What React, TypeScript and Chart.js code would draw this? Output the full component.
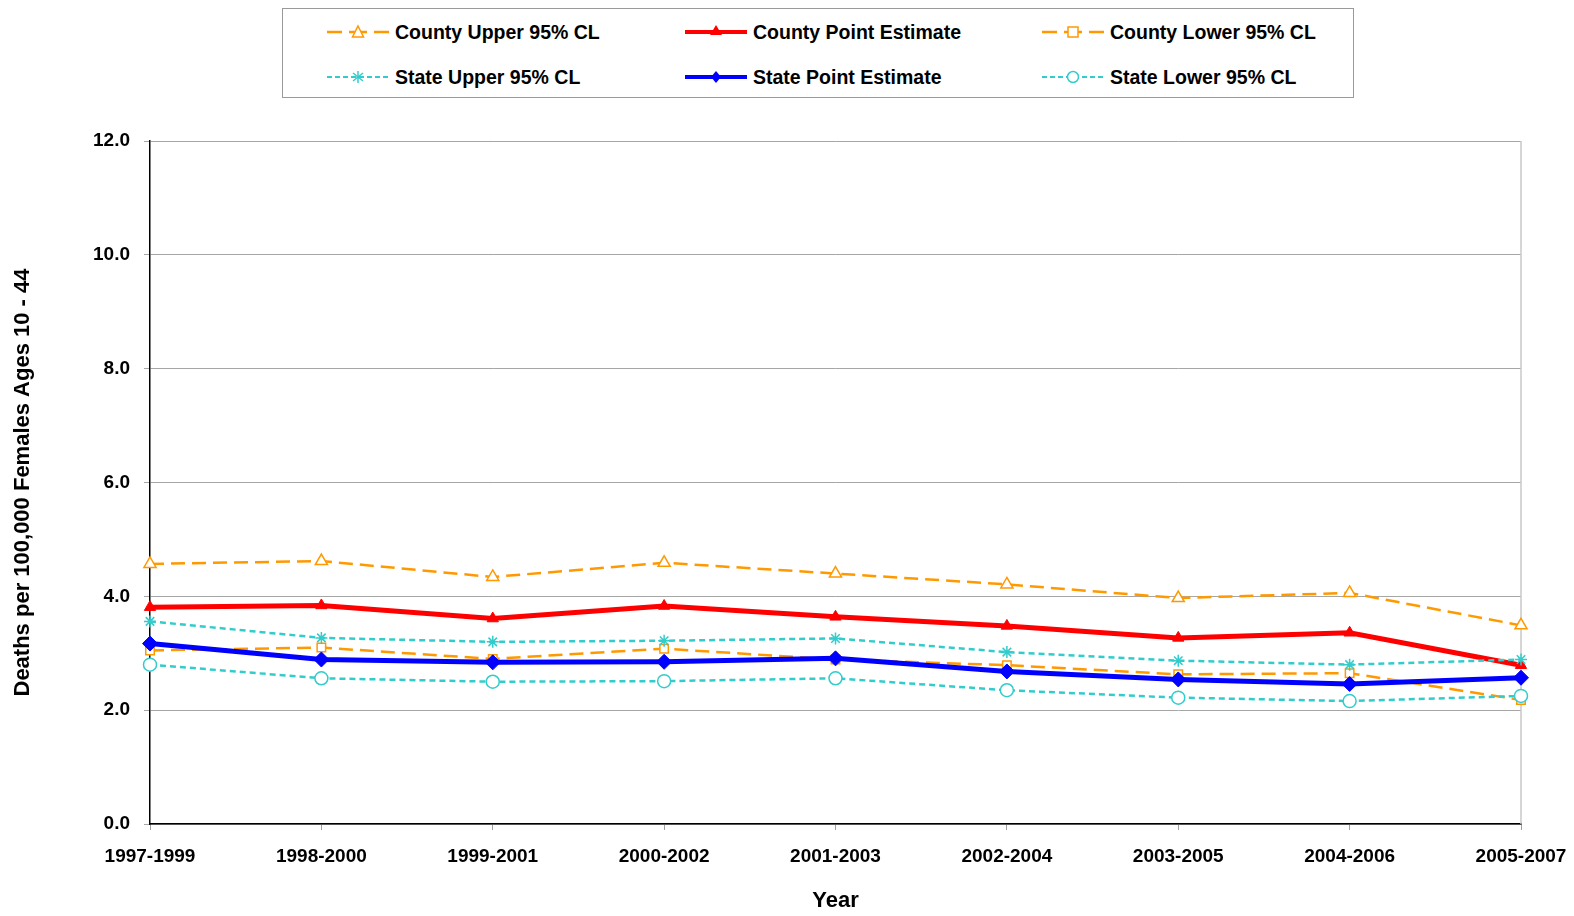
import React, { useEffect, useRef } from 'react';
import { Chart, registerables } from 'chart.js';

Chart.register(...registerables);

const FONT = '"Liberation Sans", Arial, Helvetica, sans-serif';
const ORANGE = '#FF9900';
const CYAN = '#33CCCC';
const RED = '#FF0000';
const BLUE = '#0000FF';

const categories = [
  '1997-1999', '1998-2000', '1999-2001', '2000-2002', '2001-2003',
  '2002-2004', '2003-2005', '2004-2006', '2005-2007',
];
const countyUpper = [4.57, 4.62, 4.34, 4.59, 4.40, 4.21, 3.97, 4.06, 3.49];
const countyPoint = [3.81, 3.84, 3.61, 3.83, 3.64, 3.48, 3.27, 3.36, 2.79];
const countyLower = [3.05, 3.10, 2.90, 3.08, 2.89, 2.79, 2.63, 2.65, 2.18];
const stateUpper = [3.56, 3.27, 3.20, 3.22, 3.26, 3.02, 2.87, 2.80, 2.89];
const statePoint = [3.17, 2.89, 2.84, 2.85, 2.91, 2.68, 2.54, 2.46, 2.57];
const stateLower = [2.80, 2.56, 2.50, 2.51, 2.56, 2.35, 2.22, 2.16, 2.25];
const yTicks = [0, 2, 4, 6, 8, 10, 12];

const yTitle = 'Deaths per 100,000 Females Ages 10 - 44';
const xTitle = 'Year';

type LegendKind = 'cu' | 'cp' | 'cl' | 'su' | 'sp' | 'sl';

const legendItems: { kind: LegendKind; label: string; col: number; row: number }[] = [
  { kind: 'cu', label: 'County Upper 95% CL', col: 0, row: 0 },
  { kind: 'cp', label: 'County Point Estimate', col: 1, row: 0 },
  { kind: 'cl', label: 'County Lower 95% CL', col: 2, row: 0 },
  { kind: 'su', label: 'State Upper 95% CL', col: 0, row: 1 },
  { kind: 'sp', label: 'State Point Estimate', col: 1, row: 1 },
  { kind: 'sl', label: 'State Lower 95% CL', col: 2, row: 1 },
];

function LegendSample({ kind }: { kind: LegendKind }) {
  const w = 62;
  const h = 20;
  const cx = w / 2;
  const cy = h / 2;
  let line: React.ReactNode = null;
  let marker: React.ReactNode = null;
  if (kind === 'cu' || kind === 'cl') {
    line = (
      <g stroke={ORANGE} strokeWidth={2.5}>
        <line x1={0} y1={cy} x2={15} y2={cy} />
        <line x1={47} y1={cy} x2={62} y2={cy} />
        <line x1={22} y1={cy} x2={40} y2={cy} />
      </g>
    );
    marker =
      kind === 'cu' ? (
        <polygon points={`${cx},${cy - 6} ${cx + 5.5},${cy + 5} ${cx - 5.5},${cy + 5}`} fill="#fff" stroke={ORANGE} strokeWidth={1.5} />
      ) : (
        <rect x={cx - 5} y={cy - 5} width={10} height={10} fill="#fff" stroke={ORANGE} strokeWidth={1.5} />
      );
  } else if (kind === 'su' || kind === 'sl') {
    line = <line x1={0} y1={cy} x2={w} y2={cy} stroke={CYAN} strokeWidth={2} strokeDasharray="5 3" />;
    marker =
      kind === 'su' ? (
        <g stroke={CYAN} strokeWidth={1.5}>
          <line x1={cx} y1={cy - 6} x2={cx} y2={cy + 6} />
          <line x1={cx - 5} y1={cy - 4} x2={cx + 5} y2={cy + 4} />
          <line x1={cx - 5} y1={cy + 4} x2={cx + 5} y2={cy - 4} />
        </g>
      ) : (
        <circle cx={cx} cy={cy} r={5.5} fill="#fff" stroke={CYAN} strokeWidth={1.5} />
      );
  } else if (kind === 'cp') {
    line = <line x1={0} y1={cy} x2={w} y2={cy} stroke={RED} strokeWidth={4} />;
    marker = <polygon points={`${cx},${cy - 7} ${cx + 6},${cy + 3} ${cx - 6},${cy + 3}`} fill={RED} />;
  } else {
    line = <line x1={0} y1={cy} x2={w} y2={cy} stroke={BLUE} strokeWidth={4} />;
    marker = <polygon points={`${cx},${cy - 6} ${cx + 5},${cy} ${cx},${cy + 6} ${cx - 5},${cy}`} fill={BLUE} />;
  }
  return (
    <svg width={w} height={h} style={{ display: 'block' }}>
      {line}
      {marker}
    </svg>
  );
}

const rightBorderPlugin = {
  id: 'rightBorder',
  beforeDatasetsDraw(chart: any) {
    const { ctx, chartArea } = chart;
    ctx.save();
    ctx.strokeStyle = '#c8c8c8';
    ctx.lineWidth = 1.5;
    ctx.beginPath();
    ctx.moveTo(chartArea.right, chartArea.top);
    ctx.lineTo(chartArea.right, chartArea.bottom);
    ctx.stroke();
    ctx.restore();
  },
};

export default function App() {
  const canvasRef = useRef<HTMLCanvasElement | null>(null);

  useEffect(() => {
    if (!canvasRef.current) return;
    const mk = (
      label: string,
      data: number[],
      color: string,
      opts: Record<string, unknown>,
    ) => ({
      label,
      data,
      borderColor: color,
      pointBorderColor: color,
      clip: false as const,
      tension: 0,
      ...opts,
    });
    const chart = new Chart(canvasRef.current, {
      type: 'line',
      data: {
        labels: categories,
        datasets: [
          mk('County Upper 95% CL', countyUpper, ORANGE, {
            borderWidth: 2.5, borderDash: [14, 7], pointStyle: 'triangle', pointRadius: 7,
            pointBackgroundColor: '#fff', pointBorderWidth: 1.5, order: 6,
          }),
          mk('County Point Estimate', countyPoint, RED, {
            borderWidth: 5, pointStyle: 'triangle', pointRadius: 6.5,
            pointBackgroundColor: RED, pointBorderWidth: 1, order: 5,
          }),
          mk('County Lower 95% CL', countyLower, ORANGE, {
            borderWidth: 2.5, borderDash: [14, 7], pointStyle: 'rect', pointRadius: 6,
            pointBackgroundColor: '#fff', pointBorderWidth: 1.5, order: 4,
          }),
          mk('State Upper 95% CL', stateUpper, CYAN, {
            borderWidth: 2.5, borderDash: [6, 4], pointStyle: 'star', pointRadius: 6,
            pointBackgroundColor: CYAN, pointBorderWidth: 1.5, order: 3,
          }),
          mk('State Point Estimate', statePoint, BLUE, {
            borderWidth: 5, pointStyle: 'rectRot', pointRadius: 7.5,
            pointBackgroundColor: BLUE, pointBorderWidth: 1, order: 2,
          }),
          mk('State Lower 95% CL', stateLower, CYAN, {
            borderWidth: 2.5, borderDash: [6, 4], pointStyle: 'circle', pointRadius: 6.5,
            pointBackgroundColor: '#fff', pointBorderWidth: 1.5, order: 1,
          }),
        ],
      },
      options: {
        responsive: false,
        animation: false,
        layout: { padding: { top: 141, right: 53, bottom: 0, left: 0 } },
        plugins: {
          legend: { display: false },
          tooltip: { enabled: false },
        },
        scales: {
          x: {
            type: 'category',
            offset: false,
            grid: { drawOnChartArea: false, drawTicks: true, tickLength: 6, color: '#a0a0a0' },
            border: { color: '#000', width: 1.5 },
            ticks: {
              color: '#000',
              font: { family: FONT, size: 19, weight: 'bold' },
              padding: 15,
              maxRotation: 0,
              autoSkip: false,
            },
            title: {
              display: true,
              text: xTitle,
              color: '#000',
              font: { family: FONT, size: 22, weight: 'bold' },
              padding: { top: 0, bottom: 2 },
            },
            afterFit: (s: any) => {
              s.height = 92;
              s.paddingLeft = 0;
              s.paddingRight = 0;
            },
          },
          y: {
            min: 0,
            max: 12,
            afterBuildTicks: (s: any) => {
              s.ticks = yTicks.map((v) => ({ value: v }));
            },
            grid: { color: '#a6a6a6', tickLength: 6, lineWidth: 1 },
            border: { color: '#000', width: 1.5 },
            ticks: {
              color: '#000',
              font: { family: FONT, size: 19, weight: 'bold' },
              padding: 14,
              callback: (v: any) => Number(v).toFixed(1),
            },
            title: {
              display: true,
              text: yTitle,
              color: '#000',
              font: { family: FONT, size: 22, weight: 'bold' },
              padding: { top: 10, bottom: 0 },
            },
            afterFit: (s: any) => {
              s.width = 150;
            },
          },
        },
      },
      plugins: [rightBorderPlugin],
    } as any);
    return () => chart.destroy();
  }, []);

  const colX = [44, 402, 759];
  const textX = [112, 470, 827];
  const rowY = [23, 68];

  return (
    <div style={{ position: 'absolute', left: 0, top: 0, width: 1574, height: 916, background: '#fff' }}>
      <canvas ref={canvasRef} width={1574} height={916} style={{ position: 'absolute', left: 0, top: 0 }} />
      <div
        style={{
          position: 'absolute',
          left: 282,
          top: 8,
          width: 1070,
          height: 88,
          border: '1px solid #9a9a9a',
          background: '#fff',
          fontFamily: FONT,
          fontWeight: 'bold',
          fontSize: 19.5,
          color: '#000',
        }}
      >
        {legendItems.map((it) => (
          <React.Fragment key={it.kind}>
            <div style={{ position: 'absolute', left: colX[it.col], top: rowY[it.row] - 10 }}>
              <LegendSample kind={it.kind} />
            </div>
            <div
              style={{
                position: 'absolute',
                left: textX[it.col],
                top: rowY[it.row] - 12,
                lineHeight: '24px',
                whiteSpace: 'nowrap',
              }}
            >
              {it.label}
            </div>
          </React.Fragment>
        ))}
      </div>
    </div>
  );
}
